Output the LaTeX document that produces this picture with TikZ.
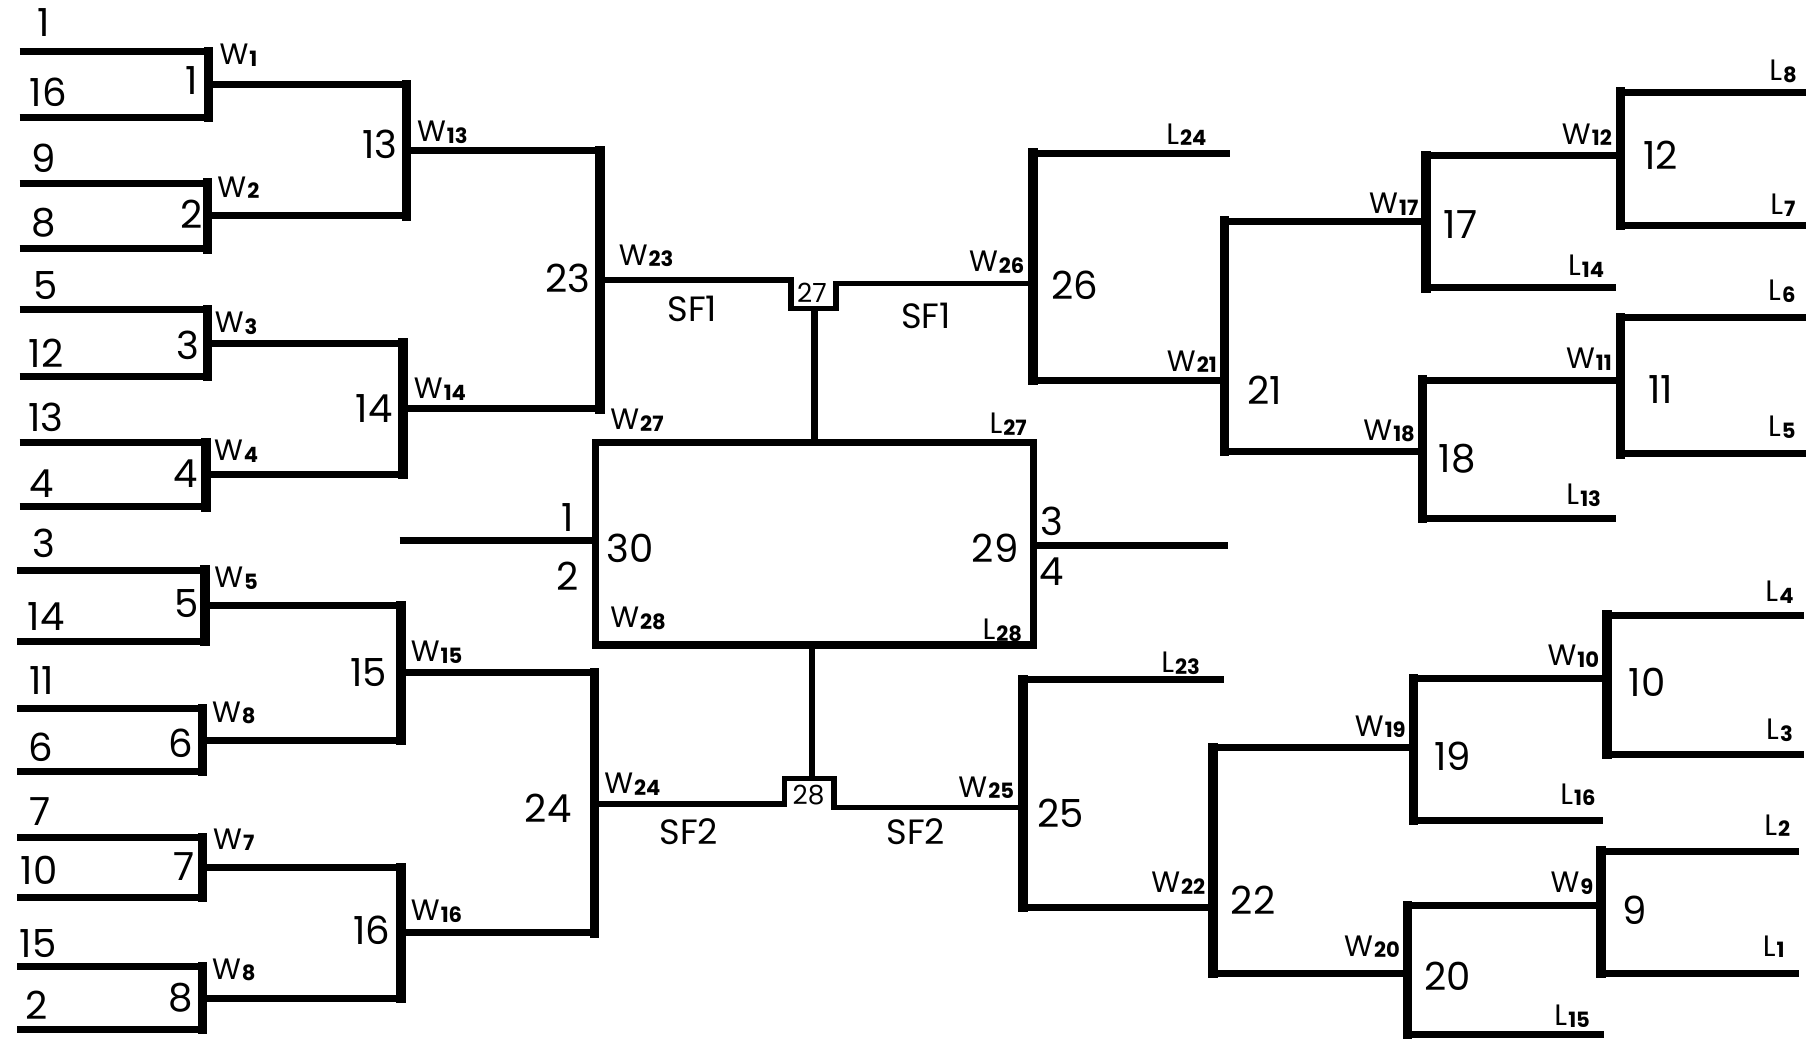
\documentclass[tikz,border=0pt]{standalone}
\usepackage{fontspec}
\setmainfont{Poppins}
\tikzset{
  hl/.style={line width=2pt, line cap=butt},
  vl/.style={line width=2.7pt, line cap=rect},
  cl/.style={line width=1.6pt, line join=miter, line cap=butt},
  num/.style={font=\fontsize{11}{12}\selectfont, inner sep=0pt},
  wlab/.style={font=\fontsize{8.4}{9}\selectfont, inner sep=0pt},
  wr/.style={wlab, anchor=east},
  sflab/.style={font=\fontsize{10}{11}\selectfont, inner sep=0pt},
  tiny/.style={font=\fontsize{7.5}{8}\selectfont, inner sep=0pt}
}
\newcommand\Wsub[2]{#1\kern0.3pt\raisebox{-0.5pt}{\fontsize{6}{6}\selectfont\bfseries #2}}
\begin{document}
\begin{tikzpicture}[x=0.011518cm,y=-0.011518cm]
\useasboundingbox (0,0) rectangle (1568,903);
% ---------- left: seed line ends ----------
\coordinate (s1) at (17,45);   \coordinate (s2) at (17,102);
\coordinate (s3) at (17,159);  \coordinate (s4) at (17,216);
\coordinate (s5) at (17,269);  \coordinate (s6) at (17,327);
\coordinate (s7) at (17,384);  \coordinate (s8) at (17,440);
\coordinate (s9) at (15,495);  \coordinate (s10) at (15,557);
\coordinate (s11) at (15,615); \coordinate (s12) at (15,670);
\coordinate (s13) at (15,727); \coordinate (s14) at (15,779);
\coordinate (s15) at (15,839); \coordinate (s16) at (15,894);
% round 1
\coordinate (m1t) at (181,45);  \coordinate (m1b) at (181,102);  \coordinate (m1o) at (181,73.5);
\coordinate (m2t) at (180,159); \coordinate (m2b) at (180,216);  \coordinate (m2o) at (180,187.5);
\coordinate (m3t) at (180,269); \coordinate (m3b) at (180,327);  \coordinate (m3o) at (180,298);
\coordinate (m4t) at (179,384); \coordinate (m4b) at (179,440);  \coordinate (m4o) at (179,412);
\coordinate (m5t) at (178,495); \coordinate (m5b) at (178,557);  \coordinate (m5o) at (178,526);
\coordinate (m6t) at (176,615); \coordinate (m6b) at (176,670);  \coordinate (m6o) at (176,642.5);
\coordinate (m7t) at (176,727); \coordinate (m7b) at (176,779);  \coordinate (m7o) at (176,753);
\coordinate (m8t) at (176,839); \coordinate (m8b) at (176,894);  \coordinate (m8o) at (176,866.5);
% round 2
\coordinate (m13t) at (353,73.5); \coordinate (m13b) at (353,187.5); \coordinate (m13o) at (353,130.5);
\coordinate (m14t) at (350,298);  \coordinate (m14b) at (350,412);   \coordinate (m14o) at (350,355);
\coordinate (m15t) at (348,526);  \coordinate (m15b) at (348,642.5); \coordinate (m15o) at (348,584);
\coordinate (m16t) at (348,753);  \coordinate (m16b) at (348,866.5); \coordinate (m16o) at (348,810);
% round 3
\coordinate (m23t) at (521,130.5); \coordinate (m23b) at (521,355); \coordinate (m23o) at (521,243);
\coordinate (m24t) at (516,584);   \coordinate (m24b) at (516,810); \coordinate (m24o) at (516,698);
% notches and center
\coordinate (n27a) at (687,243); \coordinate (n27b) at (687,268);
\coordinate (n27c) at (726,268); \coordinate (n27d) at (726,246);
\coordinate (n27m) at (707,268); \coordinate (r27) at (707,384);
\coordinate (n28a) at (681,698); \coordinate (n28b) at (681,676);
\coordinate (n28c) at (724,676); \coordinate (n28d) at (724,701);
\coordinate (n28m) at (705,676); \coordinate (r28) at (705,560);
\coordinate (rTL) at (517,384); \coordinate (rTR) at (897,384);
\coordinate (rBL) at (517,560); \coordinate (rBR) at (897,560);
\coordinate (f30a) at (347,469); \coordinate (f30b) at (517,469);
\coordinate (f29a) at (897,474); \coordinate (f29b) at (1066,474);
% right side
\coordinate (m26t) at (897,133); \coordinate (m26b) at (897,330); \coordinate (m26o) at (897,246);
\coordinate (e24) at (1068,133);
\coordinate (m21t) at (1063,192); \coordinate (m21b) at (1063,392); \coordinate (m21o) at (1063,330);
\coordinate (m17t) at (1238,135); \coordinate (m17b) at (1238,250); \coordinate (m17o) at (1238,192);
\coordinate (e14) at (1403,250);
\coordinate (m12t) at (1407,80);  \coordinate (m12b) at (1407,196); \coordinate (m12o) at (1407,135);
\coordinate (e8) at (1568,80); \coordinate (e7) at (1568,196);
\coordinate (m18t) at (1235,330); \coordinate (m18b) at (1235,450); \coordinate (m18o) at (1235,392);
\coordinate (e13) at (1403,450);
\coordinate (m11t) at (1407,276); \coordinate (m11b) at (1407,394); \coordinate (m11o) at (1407,330);
\coordinate (e6) at (1568,276); \coordinate (e5) at (1568,394);
\coordinate (m25t) at (888,590); \coordinate (m25b) at (888,788); \coordinate (m25o) at (888,701);
\coordinate (e23) at (1063,590);
\coordinate (m22t) at (1053,649); \coordinate (m22b) at (1053,845); \coordinate (m22o) at (1053,788);
\coordinate (m19t) at (1227,589); \coordinate (m19b) at (1227,712); \coordinate (m19o) at (1227,649);
\coordinate (e16) at (1392,712);
\coordinate (m10t) at (1395,534); \coordinate (m10b) at (1395,655); \coordinate (m10o) at (1395,589);
\coordinate (e4) at (1566,534); \coordinate (e3) at (1566,655);
\coordinate (m20t) at (1222,786); \coordinate (m20b) at (1222,898); \coordinate (m20o) at (1222,845);
\coordinate (e15) at (1393,898);
\coordinate (m9t) at (1390,739); \coordinate (m9b) at (1390,845); \coordinate (m9o) at (1390,786);
\coordinate (e2) at (1562,739); \coordinate (e1) at (1562,845);

% ---------- horizontal lines ----------
\draw[hl] (s1)--(m1t) (s2)--(m1b) (s3)--(m2t) (s4)--(m2b)
          (s5)--(m3t) (s6)--(m3b) (s7)--(m4t) (s8)--(m4b)
          (s9)--(m5t) (s10)--(m5b) (s11)--(m6t) (s12)--(m6b)
          (s13)--(m7t) (s14)--(m7b) (s15)--(m8t) (s16)--(m8b);
\draw[hl] (m1o)--(m13t) (m2o)--(m13b) (m3o)--(m14t) (m4o)--(m14b)
          (m5o)--(m15t) (m6o)--(m15b) (m7o)--(m16t) (m8o)--(m16b);
\draw[hl] (m13o)--(m23t) (m14o)--(m23b) (m15o)--(m24t) (m16o)--(m24b);
\draw[hl] (m26t)--(e24) (m26b)--(m21o)
          (m21t)--(m17o) (m21b)--(m18o)
          (m17t)--(m12o) (m17b)--(e14)
          (m12t)--(e8) (m12b)--(e7)
          (m18t)--(m11o) (m18b)--(e13)
          (m11t)--(e6) (m11b)--(e5);
\draw[hl] (m25t)--(e23) (m25b)--(m22o)
          (m22t)--(m19o) (m22b)--(m20o)
          (m19t)--(m10o) (m19b)--(e16)
          (m10t)--(e4) (m10b)--(e3)
          (m20t)--(m9o) (m20b)--(e15)
          (m9t)--(e2) (m9b)--(e1);
% ---------- vertical lines ----------
\foreach \m in {1,2,3,4,5,6,7,8,13,14,15,16,23,24,26,21,17,12,18,11,25,22,19,10,20,9}
  \draw[vl] (m\m t)--(m\m b);
% ---------- center ----------
\draw[cl] (m23o)--(n27a)--(n27b)--(n27c)--(n27d)--(m26o);
\draw[cl] (m24o)--(n28a)--(n28b)--(n28c)--(n28d)--(m25o);
\draw[cl, line width=1.9pt] (n27m)--(r27);
\draw[cl, line width=1.9pt] (r28)--(n28m);
\draw[hl, line join=miter] (rTL)--(rTR)--(rBR)--(rBL)--cycle;
\draw[hl] (f30a)--(f30b);
\draw[hl] (f29a)--(f29b);

% ---------- seed labels ----------
\node[num] (t1)  at (38,20)  {1};
\node[num] (t16) at (42,80)  {16};
\node[num] (t9)  at (38,137) {9};
\node[num] (t8)  at (38,193) {8};
\node[num] (t5)  at (40,248) {5};
\node[num] (t12) at (40,307) {12};
\node[num] (t13) at (40,362) {13};
\node[num] (t4)  at (36,420) {4};
\node[num] (t3)  at (38,472) {3};
\node[num] (t14) at (40,535) {14};
\node[num] (t11) at (36,591) {11};
\node[num] (t6)  at (35,649) {6};
\node[num] (t7)  at (35,705) {7};
\node[num] (t10) at (34,756) {10};
\node[num] (t15) at (33,819) {15};
\node[num] (t2)  at (32,873) {2};
% match numbers left
\node[num] (g1) at (166,70)  {1};
\node[num] (g2) at (166,186) {2};
\node[num] (g3) at (163,300) {3};
\node[num] (g4) at (161,411) {4};
\node[num] (g5) at (162,524) {5};
\node[num] (g6) at (157,645) {6};
\node[num] (g7) at (160,752) {7};
\node[num] (g8) at (157,866) {8};
\node[num] (g13) at (330,125) {13};
\node[num] (g14) at (325,355) {14};
\node[num] (g15) at (320,584) {15};
\node[num] (g16) at (323,808) {16};
\node[num] (g23) at (493,242) {23};
\node[num] (g24) at (476,702) {24};
% W labels left
\node[wlab] (w1) at (207,48)  {\Wsub{W}{1}};
\node[wlab] (w2) at (207,163) {\Wsub{W}{2}};
\node[wlab] (w3) at (205,281) {\Wsub{W}{3}};
\node[wlab] (w4) at (205,392) {\Wsub{W}{4}};
\node[wlab] (w5) at (205,502) {\Wsub{W}{5}};
\node[wlab] (w6) at (203,619) {\Wsub{W}{8}};
\node[wlab] (w7) at (203,729) {\Wsub{W}{7}};
\node[wlab] (w8) at (203,842) {\Wsub{W}{8}};
\node[wlab] (w13) at (384,115) {\Wsub{W}{13}};
\node[wlab] (w14) at (382,338) {\Wsub{W}{14}};
\node[wlab] (w15) at (379,566) {\Wsub{W}{15}};
\node[wlab] (w16) at (379,791) {\Wsub{W}{16}};
\node[wlab] (w23) at (561,222) {\Wsub{W}{23}};
\node[wlab] (w24) at (549,681) {\Wsub{W}{24}};
\node[wlab] (w27) at (553,365) {\Wsub{W}{27}};
\node[wlab] (w28) at (554,537) {\Wsub{W}{28}};
% center labels
\node[sflab] (sfa) at (601,268) {SF1};
\node[sflab] (sfb) at (804,274) {SF1};
\node[sflab] (sfc) at (598,722) {SF2};
\node[sflab] (sfd) at (795,722) {SF2};
\node[tiny] (c27) at (705,254) {27};
\node[tiny] (c28) at (702,690) {28};
\node[num] (p1) at (493,449) {1};
\node[num] (p2) at (493,500) {2};
\node[num] (g30) at (547,476) {30};
\node[num] (g29) at (864,476) {29};
\node[num] (p3) at (913,453) {3};
\node[num] (p4) at (913,496) {4};
\node[wr] (l27) at (892,368) {\Wsub{L}{27}};
\node[wr] (l28) at (888,547) {\Wsub{L}{28}};
% right match numbers
\node[num] (g26) at (933,248) {26};
\node[num] (g21) at (1098,339) {21};
\node[num] (g17) at (1268,195) {17};
\node[num] (g12) at (1442,135) {12};
\node[num] (g18) at (1265,398) {18};
\node[num] (g11) at (1442,338) {11};
\node[num] (g25) at (921,706) {25};
\node[num] (g22) at (1088,782) {22};
\node[num] (g19) at (1261,657) {19};
\node[num] (g10) at (1430,592) {10};
\node[num] (g20) at (1257,848) {20};
\node[num] (g9)  at (1419,790) {9};
% right W labels
\node[wr] (w26) at (890,228) {\Wsub{W}{26}};
\node[wr] (w21) at (1057,314) {\Wsub{W}{21}};
\node[wr] (w17) at (1232,177) {\Wsub{W}{17}};
\node[wr] (w12) at (1400,117) {\Wsub{W}{12}};
\node[wr] (w18) at (1229,374) {\Wsub{W}{18}};
\node[wr] (w11) at (1400,312) {\Wsub{W}{11}};
\node[wr] (w25) at (881,684) {\Wsub{W}{25}};
\node[wr] (w22) at (1047,767) {\Wsub{W}{22}};
\node[wr] (w19) at (1221,631) {\Wsub{W}{19}};
\node[wr] (w10) at (1389,570) {\Wsub{W}{10}};
\node[wr] (w20) at (1216,822) {\Wsub{W}{20}};
\node[wr] (w9)  at (1384,767) {\Wsub{W}{9}};
% right L labels
\node[wlab] (l24) at (1030,117) {\Wsub{L}{24}};
\node[wlab] (l14) at (1377,231) {\Wsub{L}{14}};
\node[wlab] (l13) at (1375,430) {\Wsub{L}{13}};
\node[wlab] (l8)  at (1548,62)  {\Wsub{L}{8}};
\node[wlab] (l7)  at (1548,178) {\Wsub{L}{7}};
\node[wlab] (l6)  at (1547,253) {\Wsub{L}{6}};
\node[wlab] (l5)  at (1547,371) {\Wsub{L}{5}};
\node[wlab] (l23) at (1025,576) {\Wsub{L}{23}};
\node[wlab] (l16) at (1370,690) {\Wsub{L}{16}};
\node[wlab] (l15) at (1365,882) {\Wsub{L}{15}};
\node[wlab] (l4)  at (1545,514) {\Wsub{L}{4}};
\node[wlab] (l3)  at (1545,634) {\Wsub{L}{3}};
\node[wlab] (l2)  at (1543,717) {\Wsub{L}{2}};
\node[wlab] (l1)  at (1540,822) {\Wsub{L}{1}};
\end{tikzpicture}
\end{document}
